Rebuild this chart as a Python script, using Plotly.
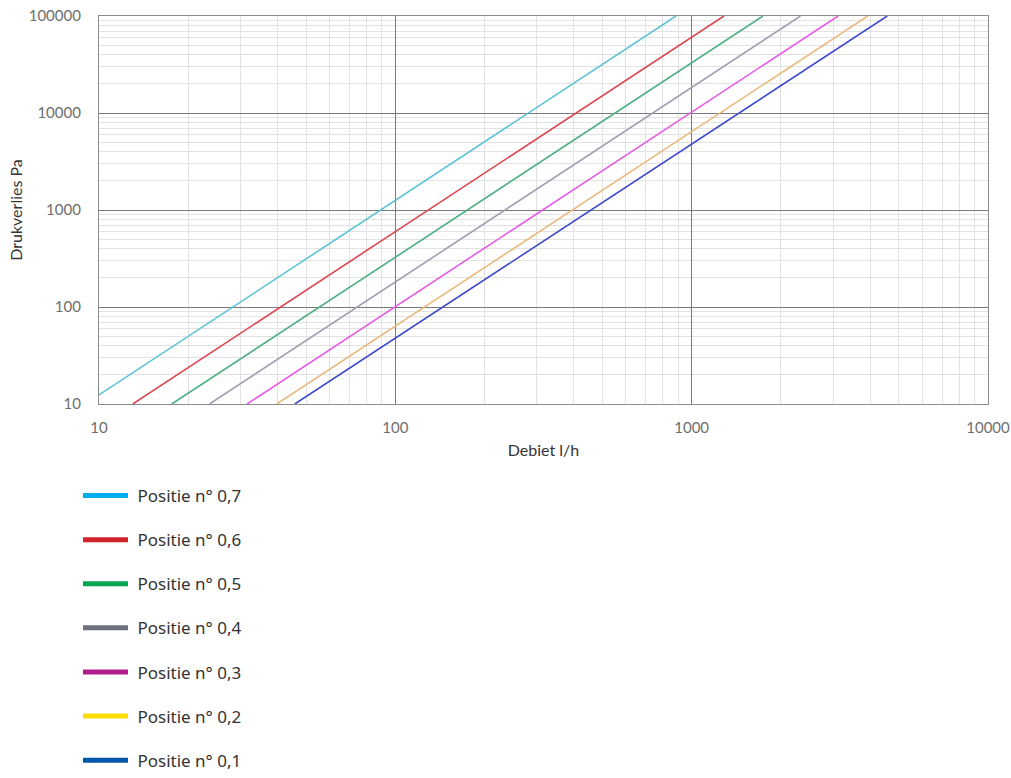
import plotly.graph_objects as go

# Data (each curve is a straight line on log-log axes)
positions = ["Positie n° 0,7", "Positie n° 0,6", "Positie n° 0,5", "Positie n° 0,4",
             "Positie n° 0,3", "Positie n° 0,2", "Positie n° 0,1"]
flow_07 = [10, 886];   dp_07 = [12.4, 100000]
flow_06 = [13.0, 1285]; dp_06 = [10, 100000]
flow_05 = [17.6, 1740]; dp_05 = [10, 100000]
flow_04 = [23.6, 2330]; dp_04 = [10, 100000]
flow_03 = [31.6, 3120]; dp_03 = [10, 100000]
flow_02 = [39.8, 3930]; dp_02 = [10, 100000]
flow_01 = [45.8, 4570]; dp_01 = [10, 100000]

flows = [flow_07, flow_06, flow_05, flow_04, flow_03, flow_02, flow_01]
dps = [dp_07, dp_06, dp_05, dp_04, dp_03, dp_02, dp_01]

line_colors = ["#5BC3D5", "#DA4651", "#4EAE83", "#A09FAF", "#E55BE4", "#E9BA7E", "#3F4ACB"]
legend_colors = ["#00AEEF", "#D2232A", "#00A651", "#6D737B", "#B21F8C", "#FFDD00", "#0059A8"]

x_ticks = [10, 100, 1000, 10000]
y_ticks = [10, 100, 1000, 10000, 100000]

W, H = 1011, 778

fig = go.Figure()
for name, fx, dy, c in zip(positions, flows, dps, line_colors):
    fig.add_trace(go.Scatter(x=fx, y=dy, mode="lines", line=dict(color=c, width=1.6),
                             showlegend=False, hoverinfo="skip"))
for i, (name, c) in enumerate(zip(positions, legend_colors)):
    fig.add_trace(go.Scatter(x=[None], y=[None], mode="lines", name="\u00a0" + name,
                             line=dict(color=c, width=5), legendgroup=f"g{i}"))

tick_font = dict(family="Lato, Liberation Sans, sans-serif", size=15, color="#6e6e6e")
fig.update_layout(
    width=W, height=H,
    margin=dict(l=0, r=0, t=0, b=0),
    plot_bgcolor="white", paper_bgcolor="white",
    font=dict(family="Lato, Noto Sans, sans-serif", color="#333"),
    showlegend=True,
    legend=dict(x=78 / W, y=0,
                xanchor="left", yanchor="bottom", tracegroupgap=19,
                font=dict(family="Noto Sans, Lato, sans-serif", size=17, color="#333"),
                bgcolor="rgba(0,0,0,0)", itemwidth=45),
)
fig.update_xaxes(
    domain=[99 / W, 988 / W], automargin=False,
    type="log", range=[1, 4], tickvals=x_ticks, ticktext=[str(v) for v in x_ticks],
    showgrid=True, gridcolor="#7a7a7a", gridwidth=1,
    minor=dict(dtick="D1", showgrid=True, gridcolor="#e2e2e2", gridwidth=1),
    showline=True, linecolor="#8c8c8c", linewidth=1.2, mirror=True,
    ticks="", ticklabelstandoff=10, tickfont=tick_font, zeroline=False,
    title=dict(text="Debiet l/h", font=dict(size=16, color="#333"), standoff=9),
)
fig.update_yaxes(
    domain=[(H - 404) / H, (H - 16) / H], automargin=False,
    type="log", range=[1, 5], tickvals=y_ticks, ticktext=[str(v) for v in y_ticks],
    showgrid=True, gridcolor="#7a7a7a", gridwidth=1,
    minor=dict(dtick="D1", showgrid=True, gridcolor="#e2e2e2", gridwidth=1),
    showline=True, linecolor="#8c8c8c", linewidth=1.2, mirror=True,
    ticks="", ticklabelstandoff=14, tickfont=tick_font, zeroline=False,
    title=dict(text="Drukverlies Pa", font=dict(size=16, color="#333"), standoff=2),
)

fig.write_html("out.html")
